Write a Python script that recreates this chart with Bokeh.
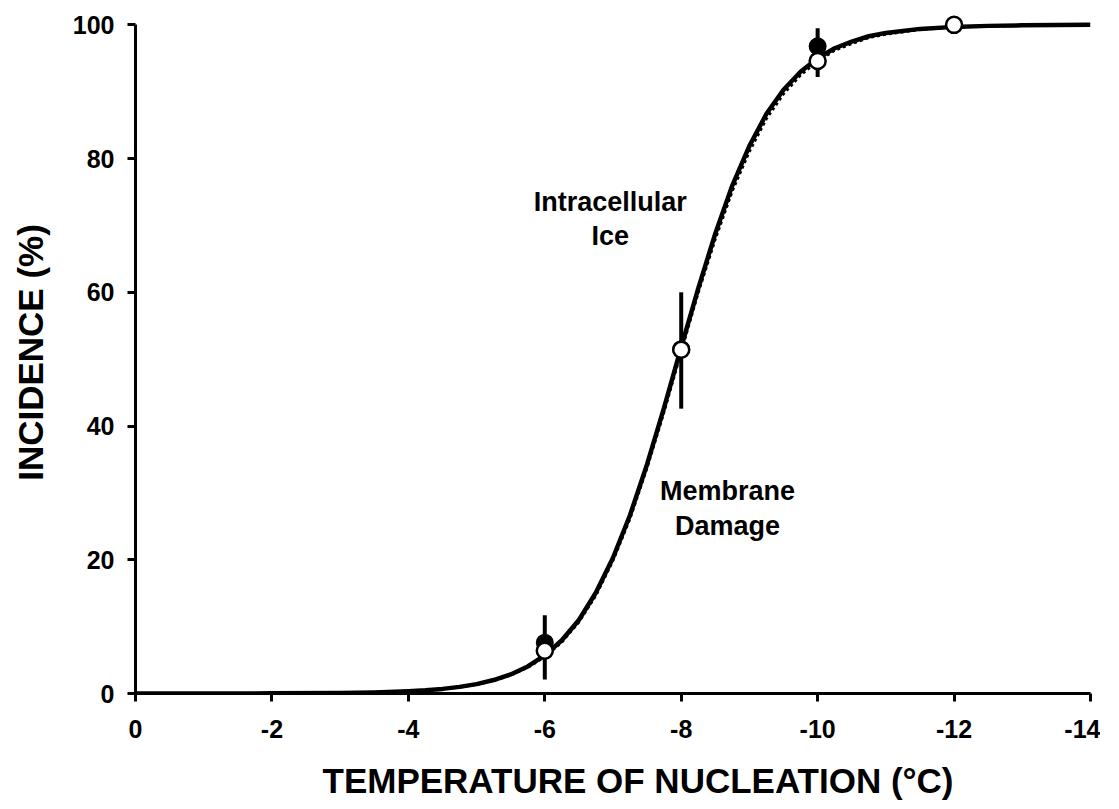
from bokeh.plotting import figure
from bokeh.models import Range1d, FixedTicker, ColumnDataSource, Title
from bokeh.core.properties import value
from bokeh.embed import file_html
from bokeh.resources import INLINE

# ---- data ----
curve_x = [0, -1, -2, -3, -3.5, -4, -4.25, -4.5, -4.75, -5, -5.25, -5.5, -5.75, -6, -6.25, -6.5,
           -6.75, -7, -7.25, -7.5, -7.75, -8, -8.25, -8.5, -8.75, -9, -9.25, -9.5, -9.75, -10,
           -10.25, -10.5, -10.75, -11, -11.5, -12, -12.5, -13, -14]
ice_curve_y = [0, 0.01, 0.02, 0.08, 0.16, 0.34, 0.48, 0.69, 0.99, 1.4, 2.01, 2.85, 4.04, 5.7, 7.96, 11.0,
               15.1, 20.3, 26.7, 34.3, 42.8, 51.8, 60.6, 68.8, 76.0, 81.9, 86.7, 90.3, 93.0, 95.0,
               96.5, 97.5, 98.3, 98.8, 99.4, 99.7, 99.85, 99.93, 100]
membrane_curve_y = [0, 0.01, 0.02, 0.08, 0.15, 0.33, 0.46, 0.67, 0.95, 1.35, 1.94, 2.75, 3.9, 5.5, 7.7, 10.7,
                    14.7, 19.9, 26.2, 33.8, 42.2, 51.2, 60.0, 68.0, 75.2, 81.1, 86.0, 89.7, 92.5, 94.6,
                    96.2, 97.2, 98.1, 98.6, 99.3, 99.7, 99.84, 99.92, 100]

ice_x = [-6, -8, -10]
ice_y = [7.6, 51.5, 96.8]
membrane_x = [-6, -8, -10, -12]
membrane_y = [6.4, 51.4, 94.6, 100]
err_x = [-6, -8, -10]
err_low = [2.1, 42.6, 92.2]
err_high = [11.7, 60.0, 99.5]

x_ticks = [0, -2, -4, -6, -8, -10, -12, -14]
y_ticks = [0, 20, 40, 60, 80, 100]
x_title = "TEMPERATURE OF NUCLEATION (°C)"
y_title = "INCIDENCE (%)"
label_text = ["Intracellular\nIce", "Membrane\nDamage"]
label_x = [-6.96, -8.68]
label_y = [71.0, 27.7]

FONT = "Liberation Sans"

p = figure(frame_width=955, frame_height=682,
           x_range=Range1d(0, -14), y_range=Range1d(0, 102),
           output_backend="svg", toolbar_location=None,
           min_border_left=135, min_border_top=11, min_border_right=10, min_border_bottom=0)
p.outline_line_color = None
p.grid.visible = False
p.background_fill_color = "white"
p.border_fill_color = "white"

for ax in (p.xaxis[0], p.yaxis[0]):
    ax.axis_line_width = 3
    ax.major_tick_line_width = 3
    ax.major_tick_in = 0
    ax.major_tick_out = 8
    ax.minor_tick_line_color = None
    ax.major_label_text_font = FONT
    ax.major_label_text_font_style = "bold"
    ax.major_label_text_font_size = "25px"
    ax.major_label_text_color = "black"
    ax.axis_label_text_font = FONT
    ax.axis_label_text_font_style = "bold"
    ax.axis_label_text_font_size = "35px"
    ax.axis_label_text_color = "black"

p.xaxis.ticker = FixedTicker(ticks=x_ticks)
p.yaxis.ticker = FixedTicker(ticks=y_ticks)
p.xaxis.major_label_overrides = {t: str(t) for t in x_ticks}
p.yaxis.bounds = (0, 100)
p.yaxis.axis_label = y_title
p.xaxis.major_label_standoff = 18
p.yaxis.major_label_standoff = 13
p.yaxis.axis_label_standoff = 20

# x-axis title, a little right of the frame centre as in the reference
p.add_layout(Title(text=x_title, align="left", offset=187, standoff=36,
                   text_font=FONT, text_font_style="bold", text_font_size="35px",
                   text_color="black"), "below")

# curves
p.line(curve_x, membrane_curve_y, line_color="black", line_width=3, line_dash="3 3", line_join="round")
p.line(curve_x, ice_curve_y, line_color="black", line_width=4.5, line_join="round")

# error bars
p.segment(x0=err_x, y0=err_low, x1=err_x, y1=err_high, line_color="black", line_width=4)

# points
p.scatter(ice_x, ice_y, size=16, fill_color="black", line_color="black", line_width=2)
p.scatter(membrane_x, membrane_y, size=16, fill_color="white", line_color="black", line_width=2.5)

# annotations
src = ColumnDataSource(dict(x=label_x, y=label_y, t=label_text))
p.text(x="x", y="y", text="t", source=src, text_font=value(FONT), text_font_style="bold",
       text_font_size="27px", text_align="center", text_baseline="middle",
       text_line_height=1.15, text_color="black")

open("out.html", "w").write(file_html(p, INLINE))
